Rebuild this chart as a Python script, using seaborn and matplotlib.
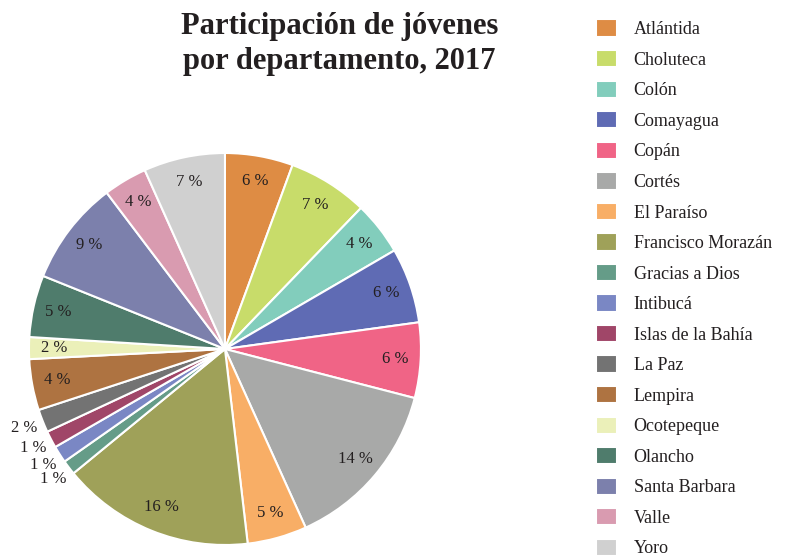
import seaborn as sns
import matplotlib.pyplot as plt
import numpy as np


sns.set_theme(style='white')
plt.rcParams['font.family'] = ['Liberation Serif', 'DejaVu Serif']
plt.rcParams['text.color'] = '#231f20'

departamentos = ['Atlántida', 'Choluteca', 'Colón', 'Comayagua', 'Copán', 'Cortés',
                 'El Paraíso', 'Francisco Morazán', 'Gracias a Dios', 'Intibucá',
                 'Islas de la Bahía', 'La Paz', 'Lempira', 'Ocotepeque', 'Olancho',
                 'Santa Barbara', 'Valle', 'Yoro']
porcentajes = [5.6, 6.6, 4.4, 6.2, 6.2, 14.2, 4.9, 15.9, 1.2, 1.4,
               1.4, 1.9, 4.2, 1.8, 5.1, 8.6, 3.6, 6.7]
colores = ['#de8c44', '#c8dc6a', '#82cdbc', '#5f6bb4', '#f06486', '#a8a9a8',
           '#f8ae66', '#9fa159', '#659c88', '#7a87c4', '#a04668', '#737373',
           '#ae7341', '#ebf0b9', '#4f7c6c', '#7c80ac', '#d99bb0', '#d0d0d0']
# slices whose label sits outside the pie
fuera = ['La Paz', 'Islas de la Bahía', 'Intibucá', 'Gracias a Dios']

palette = sns.color_palette(colores)

fig = plt.figure(figsize=(8.04, 5.56), dpi=100)
ax = fig.add_axes([0.036, 0.0198, 0.4876, 0.705])

wedges, texts, autotexts = ax.pie(
    porcentajes, colors=palette, startangle=90, counterclock=False,
    autopct=lambda p: f'{p:.0f} %', pctdistance=0.87,
    wedgeprops=dict(edgecolor='white', linewidth=1.5),
    textprops=dict(fontsize=12, color='#231f20'))
ax.set_aspect('equal')
ax.set_xlim(-1, 1)
ax.set_ylim(-1, 1)

for w, t, name in zip(wedges, autotexts, departamentos):
    if name in fuera:
        ang = np.deg2rad((w.theta1 + w.theta2) / 2)
        t.set_position((1.1 * np.cos(ang), 1.1 * np.sin(ang)))

fig.text(0.422, 0.978, 'Participación de jóvenes\npor departamento, 2017',
         ha='center', va='top', fontsize=22, fontweight='bold', linespacing=1.25)

fig.legend(wedges, departamentos, loc='upper left', bbox_to_anchor=(0.741, 0.965),
           frameon=False, fontsize=13, borderpad=0, borderaxespad=0,
           handlelength=1.15, handleheight=1.1, handletextpad=0.95, labelspacing=0.65)

plt.savefig('out.png', dpi=100)
